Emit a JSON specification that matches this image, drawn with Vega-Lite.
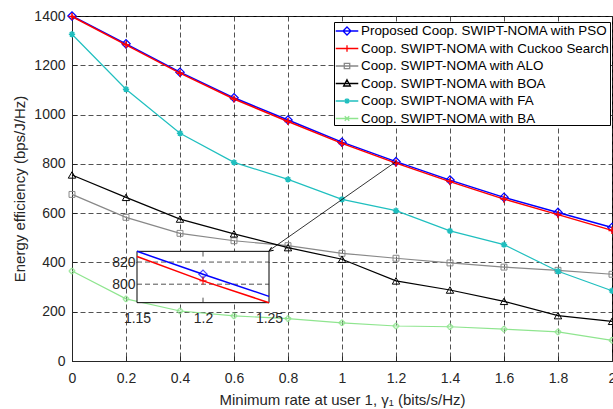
{
  "$schema": "https://vega.github.io/schema/vega-lite/v6.json",
  "width": 540,
  "height": 345,
  "autosize": {"type": "none"},
  "padding": {"left": 72, "top": 16, "right": 1, "bottom": 48},
  "background": "white",
  "config": {
    "view": {"stroke": "black", "strokeWidth": 1},
    "font": "Liberation Sans",
    "axis": {
      "labelFont": "Liberation Sans",
      "titleFont": "Liberation Sans",
      "labelFontSize": 14,
      "titleFontSize": 15,
      "labelColor": "#262626",
      "titleColor": "#262626",
      "titleFontWeight": "normal",
      "domainColor": "#262626",
      "tickColor": "#262626",
      "gridColor": "#262626",
      "gridDash": [5, 3],
      "gridWidth": 0.8,
      "gridOpacity": 1
    }
  },
  "datasets": {
    "main": [
      {"x": 0, "y": 1400, "s": "Proposed Coop. SWIPT-NOMA with PSO"},
      {"x": 0.2, "y": 1287, "s": "Proposed Coop. SWIPT-NOMA with PSO"},
      {"x": 0.4, "y": 1172, "s": "Proposed Coop. SWIPT-NOMA with PSO"},
      {"x": 0.6, "y": 1068, "s": "Proposed Coop. SWIPT-NOMA with PSO"},
      {"x": 0.8, "y": 978, "s": "Proposed Coop. SWIPT-NOMA with PSO"},
      {"x": 1.0, "y": 888, "s": "Proposed Coop. SWIPT-NOMA with PSO"},
      {"x": 1.2, "y": 809, "s": "Proposed Coop. SWIPT-NOMA with PSO"},
      {"x": 1.4, "y": 734, "s": "Proposed Coop. SWIPT-NOMA with PSO"},
      {"x": 1.6, "y": 664, "s": "Proposed Coop. SWIPT-NOMA with PSO"},
      {"x": 1.8, "y": 603, "s": "Proposed Coop. SWIPT-NOMA with PSO"},
      {"x": 2.0, "y": 542, "s": "Proposed Coop. SWIPT-NOMA with PSO"},
      {"x": 0, "y": 1398, "s": "Coop. SWIPT-NOMA with Cuckoo Search"},
      {"x": 0.2, "y": 1283, "s": "Coop. SWIPT-NOMA with Cuckoo Search"},
      {"x": 0.4, "y": 1168, "s": "Coop. SWIPT-NOMA with Cuckoo Search"},
      {"x": 0.6, "y": 1063, "s": "Coop. SWIPT-NOMA with Cuckoo Search"},
      {"x": 0.8, "y": 972, "s": "Coop. SWIPT-NOMA with Cuckoo Search"},
      {"x": 1.0, "y": 883, "s": "Coop. SWIPT-NOMA with Cuckoo Search"},
      {"x": 1.2, "y": 803, "s": "Coop. SWIPT-NOMA with Cuckoo Search"},
      {"x": 1.4, "y": 728, "s": "Coop. SWIPT-NOMA with Cuckoo Search"},
      {"x": 1.6, "y": 657, "s": "Coop. SWIPT-NOMA with Cuckoo Search"},
      {"x": 1.8, "y": 594, "s": "Coop. SWIPT-NOMA with Cuckoo Search"},
      {"x": 2.0, "y": 530, "s": "Coop. SWIPT-NOMA with Cuckoo Search"},
      {"x": 0, "y": 676, "s": "Coop. SWIPT-NOMA with ALO"},
      {"x": 0.2, "y": 583, "s": "Coop. SWIPT-NOMA with ALO"},
      {"x": 0.4, "y": 518, "s": "Coop. SWIPT-NOMA with ALO"},
      {"x": 0.6, "y": 488, "s": "Coop. SWIPT-NOMA with ALO"},
      {"x": 0.8, "y": 468, "s": "Coop. SWIPT-NOMA with ALO"},
      {"x": 1.0, "y": 437, "s": "Coop. SWIPT-NOMA with ALO"},
      {"x": 1.2, "y": 417, "s": "Coop. SWIPT-NOMA with ALO"},
      {"x": 1.4, "y": 398, "s": "Coop. SWIPT-NOMA with ALO"},
      {"x": 1.6, "y": 381, "s": "Coop. SWIPT-NOMA with ALO"},
      {"x": 1.8, "y": 368, "s": "Coop. SWIPT-NOMA with ALO"},
      {"x": 2.0, "y": 352, "s": "Coop. SWIPT-NOMA with ALO"},
      {"x": 0, "y": 755, "s": "Coop. SWIPT-NOMA with BOA"},
      {"x": 0.2, "y": 664, "s": "Coop. SWIPT-NOMA with BOA"},
      {"x": 0.4, "y": 576, "s": "Coop. SWIPT-NOMA with BOA"},
      {"x": 0.6, "y": 516, "s": "Coop. SWIPT-NOMA with BOA"},
      {"x": 0.8, "y": 460, "s": "Coop. SWIPT-NOMA with BOA"},
      {"x": 1.0, "y": 413, "s": "Coop. SWIPT-NOMA with BOA"},
      {"x": 1.2, "y": 325, "s": "Coop. SWIPT-NOMA with BOA"},
      {"x": 1.4, "y": 288, "s": "Coop. SWIPT-NOMA with BOA"},
      {"x": 1.6, "y": 242, "s": "Coop. SWIPT-NOMA with BOA"},
      {"x": 1.8, "y": 184, "s": "Coop. SWIPT-NOMA with BOA"},
      {"x": 2.0, "y": 161, "s": "Coop. SWIPT-NOMA with BOA"},
      {"x": 0, "y": 1326, "s": "Coop. SWIPT-NOMA with FA"},
      {"x": 0.2, "y": 1103, "s": "Coop. SWIPT-NOMA with FA"},
      {"x": 0.4, "y": 924, "s": "Coop. SWIPT-NOMA with FA"},
      {"x": 0.6, "y": 806, "s": "Coop. SWIPT-NOMA with FA"},
      {"x": 0.8, "y": 737, "s": "Coop. SWIPT-NOMA with FA"},
      {"x": 1.0, "y": 656, "s": "Coop. SWIPT-NOMA with FA"},
      {"x": 1.2, "y": 610, "s": "Coop. SWIPT-NOMA with FA"},
      {"x": 1.4, "y": 528, "s": "Coop. SWIPT-NOMA with FA"},
      {"x": 1.6, "y": 472, "s": "Coop. SWIPT-NOMA with FA"},
      {"x": 1.8, "y": 364, "s": "Coop. SWIPT-NOMA with FA"},
      {"x": 2.0, "y": 285, "s": "Coop. SWIPT-NOMA with FA"},
      {"x": 0, "y": 365, "s": "Coop. SWIPT-NOMA with BA"},
      {"x": 0.2, "y": 252, "s": "Coop. SWIPT-NOMA with BA"},
      {"x": 0.4, "y": 203, "s": "Coop. SWIPT-NOMA with BA"},
      {"x": 0.6, "y": 183, "s": "Coop. SWIPT-NOMA with BA"},
      {"x": 0.8, "y": 172, "s": "Coop. SWIPT-NOMA with BA"},
      {"x": 1.0, "y": 155, "s": "Coop. SWIPT-NOMA with BA"},
      {"x": 1.2, "y": 142, "s": "Coop. SWIPT-NOMA with BA"},
      {"x": 1.4, "y": 139, "s": "Coop. SWIPT-NOMA with BA"},
      {"x": 1.6, "y": 129, "s": "Coop. SWIPT-NOMA with BA"},
      {"x": 1.8, "y": 118, "s": "Coop. SWIPT-NOMA with BA"},
      {"x": 2.0, "y": 84, "s": "Coop. SWIPT-NOMA with BA"}
    ],
    "inset": [
      {"x": 1.15, "y": 829.7, "s": "PSO"},
      {"x": 1.2, "y": 809, "s": "PSO"},
      {"x": 1.25, "y": 789, "s": "PSO"},
      {"x": 1.15, "y": 825, "s": "Cuckoo"},
      {"x": 1.2, "y": 803, "s": "Cuckoo"},
      {"x": 1.25, "y": 783.3, "s": "Cuckoo"}
    ]
  },
  "layer": [
    {
      "data": {"name": "main"},
      "encoding": {
        "x": {
          "field": "x", "type": "quantitative",
          "scale": {"domain": [0, 2], "nice": false},
          "axis": {
            "title": "Minimum rate at user 1, γ₁ (bits/s/Hz)",
            "values": [0, 0.2, 0.4, 0.6, 0.8, 1, 1.2, 1.4, 1.6, 1.8, 2],
            "format": "~g",
            "grid": true,
            "tickSize": -5,
            "labelPadding": 15,
            "titlePadding": 7,
            "labelFlush": false
          }
        },
        "y": {
          "field": "y", "type": "quantitative",
          "scale": {"domain": [0, 1400], "nice": false},
          "axis": {
            "title": "Energy efficiency (bps/J/Hz)",
            "values": [0, 200, 400, 600, 800, 1000, 1200, 1400],
            "format": "d",
            "grid": true,
            "tickSize": -5,
            "labelPadding": 12,
            "titlePadding": 6,
            "labelFlush": false
          }
        }
      },
      "layer": [
        {
          "transform": [{"filter": "datum.s === 'Coop. SWIPT-NOMA with BA'"}],
          "mark": {"type": "line", "color": "#8fe58f", "strokeWidth": 1.2, "point": {"shape": "cross", "filled": false, "color": "#8fe58f", "size": 30, "strokeWidth": 1}}
        },
        {
          "transform": [{"filter": "datum.s === 'Coop. SWIPT-NOMA with ALO'"}],
          "mark": {"type": "line", "color": "#888888", "strokeWidth": 1.2, "point": {"shape": "square", "filled": false, "color": "#888888", "size": 35, "strokeWidth": 1}}
        },
        {
          "transform": [{"filter": "datum.s === 'Coop. SWIPT-NOMA with BOA'"}],
          "mark": {"type": "line", "color": "black", "strokeWidth": 1.2, "point": {"shape": "triangle-up", "filled": false, "color": "black", "size": 55, "strokeWidth": 1}}
        },
        {
          "transform": [{"filter": "datum.s === 'Coop. SWIPT-NOMA with FA'"}],
          "mark": {"type": "line", "color": "#1fbfbf", "strokeWidth": 1.2, "point": {"shape": "M0,-1V1M-1,0H1M-0.7,-0.7L0.7,0.7M-0.7,0.7L0.7,-0.7", "filled": false, "color": "#1fbfbf", "size": 40, "strokeWidth": 1.5}}
        },
        {
          "transform": [{"filter": "datum.s === 'Proposed Coop. SWIPT-NOMA with PSO'"}],
          "mark": {"type": "line", "color": "#0000ff", "strokeWidth": 1.5, "point": {"shape": "diamond", "filled": false, "color": "#0000ff", "size": 70, "strokeWidth": 1.2}}
        },
        {
          "transform": [{"filter": "datum.s === 'Coop. SWIPT-NOMA with Cuckoo Search'"}],
          "mark": {"type": "line", "color": "#ff0000", "strokeWidth": 1.5, "point": {"shape": "M0,-1V1M-1,0H1", "filled": false, "color": "#ff0000", "size": 50, "strokeWidth": 1.5}}
        },
        {
          "transform": [{"filter": "datum.s === 'Proposed Coop. SWIPT-NOMA with PSO' && datum.x === 1.2"}],
          "mark": {"type": "rule", "color": "black", "strokeWidth": 0.8},
          "encoding": {
            "x2": {"datum": 0.73},
            "y2": {"datum": 448}
          }
        },
        {
          "mark": {"type": "point", "opacity": 0},
          "encoding": {
            "color": {
              "field": "s", "type": "nominal",
              "scale": {
                "domain": ["Proposed Coop. SWIPT-NOMA with PSO", "Coop. SWIPT-NOMA with Cuckoo Search", "Coop. SWIPT-NOMA with ALO", "Coop. SWIPT-NOMA with BOA", "Coop. SWIPT-NOMA with FA", "Coop. SWIPT-NOMA with BA"],
                "range": ["#0000ff", "#ff0000", "#888888", "black", "#1fbfbf", "#8fe58f"]
              },
              "legend": {
                "title": null,
                "orient": "none",
                "legendX": 262,
                "legendY": 6,
                "fillColor": "white",
                "strokeColor": "black",
                "padding": 0,
                "rowPadding": 1.5,
                "labelFont": "Liberation Sans",
                "labelFontSize": 13.4,
                "labelColor": "black",
                "labelOffset": 5,
                "symbolOffset": 4,
                "symbolSize": 256,
                "symbolOpacity": 1,
                "symbolStrokeWidth": 1.3,
                "symbolFillColor": "transparent",
                "labelLimit": 400
              }
            },
            "shape": {
              "field": "s", "type": "nominal",
              "scale": {
                "domain": ["Proposed Coop. SWIPT-NOMA with PSO", "Coop. SWIPT-NOMA with Cuckoo Search", "Coop. SWIPT-NOMA with ALO", "Coop. SWIPT-NOMA with BOA", "Coop. SWIPT-NOMA with FA", "Coop. SWIPT-NOMA with BA"],
                "range": [
                  "M-1.41,0H1.41M0,-0.5L0.5,0L0,0.5L-0.5,0Z",
                  "M-1.41,0H1.41M0,-0.42V0.42",
                  "M-1.41,0H1.41M-0.34,-0.34H0.34V0.34H-0.34Z",
                  "M-1.41,0H1.41M0,-0.47L0.42,0.31H-0.42Z",
                  "M-1.41,0H1.41M0,-0.35V0.35M-0.25,-0.25L0.25,0.25M-0.25,0.25L0.25,-0.25",
                  "M-1.41,0H1.41M-0.28,-0.28L0.28,0.28M-0.28,0.28L0.28,-0.28"
                ]
              },
              "legend": {
                "title": null,
                "orient": "none",
                "legendX": 262,
                "legendY": 6,
                "fillColor": "white",
                "strokeColor": "black",
                "padding": 0,
                "rowPadding": 1.5,
                "labelFont": "Liberation Sans",
                "labelFontSize": 13.4,
                "labelColor": "black",
                "labelOffset": 5,
                "symbolOffset": 4,
                "symbolSize": 256,
                "symbolOpacity": 1,
                "symbolStrokeWidth": 1.3,
                "symbolFillColor": "transparent",
                "labelLimit": 400
              }
            }
          }
        }
      ]
    },
    {
      "data": {"name": "inset"},
      "encoding": {
        "x": {
          "field": "x", "type": "quantitative",
          "scale": {"domain": [1.15, 1.25], "nice": false, "range": [65, 197], "zero": false},
          "axis": {"orient": "bottom", "offset": -58, "values": [1.15, 1.2, 1.25], "format": "~g", "grid": false, "ticks": false, "domain": false, "labelPadding": 8, "title": null, "labelFlush": false, "zindex": 1}
        },
        "y": {
          "field": "y", "type": "quantitative",
          "scale": {"domain": [783, 830], "nice": false, "range": [287, 235], "zero": false},
          "axis": {"orient": "left", "offset": -65, "values": [800, 820], "grid": false, "ticks": false, "domain": false, "labelPadding": 2, "title": null, "zindex": 1}
        }
      },
      "layer": [
        {
          "mark": {"type": "rect", "fill": "white", "stroke": "black", "strokeWidth": 1},
          "encoding": {
            "x": {"aggregate": "min", "field": "x", "type": "quantitative"},
            "x2": {"aggregate": "max", "field": "x"},
            "y": {"aggregate": "min", "field": "y", "type": "quantitative"},
            "y2": {"aggregate": "max", "field": "y"}
          }
        },
        {
          "mark": {"type": "rule", "color": "#262626", "strokeDash": [5, 3], "strokeWidth": 0.8},
          "encoding": {
            "x": {"datum": 1.2, "type": "quantitative"},
            "y": {"aggregate": "min", "field": "y", "type": "quantitative"},
            "y2": {"aggregate": "max", "field": "y"}
          }
        },
        {
          "transform": [{"filter": "datum.s === 'PSO' && datum.x === 1.2"}],
          "mark": {"type": "rule", "color": "#262626", "strokeDash": [5, 3], "strokeWidth": 0.8},
          "encoding": {
            "x": {"datum": 1.15, "type": "quantitative"},
            "x2": {"datum": 1.25},
            "y": {"datum": 800, "type": "quantitative"}
          }
        },
        {
          "transform": [{"filter": "datum.s === 'PSO' && datum.x === 1.2"}],
          "mark": {"type": "rule", "color": "#262626", "strokeDash": [5, 3], "strokeWidth": 0.8},
          "encoding": {
            "x": {"datum": 1.15, "type": "quantitative"},
            "x2": {"datum": 1.25},
            "y": {"datum": 820, "type": "quantitative"}
          }
        },
        {
          "transform": [{"filter": "datum.s === 'PSO'"}],
          "mark": {"type": "line", "color": "#0000ff", "strokeWidth": 1.5}
        },
        {
          "transform": [{"filter": "datum.s === 'Cuckoo'"}],
          "mark": {"type": "line", "color": "#ff0000", "strokeWidth": 1.5}
        },
        {
          "transform": [{"filter": "datum.s === 'PSO' && datum.x === 1.2"}],
          "mark": {"type": "point", "shape": "diamond", "filled": false, "color": "#0000ff", "size": 70, "strokeWidth": 1.2}
        },
        {
          "transform": [{"filter": "datum.s === 'Cuckoo' && datum.x === 1.2"}],
          "mark": {"type": "point", "shape": "M0,-1V1M-1,0H1", "filled": false, "color": "#ff0000", "size": 50, "strokeWidth": 1.5}
        },
        {
          "mark": {"type": "point", "shape": "M0,0L-0.45,1.1M0,0L0.45,1.1", "angle": 235, "size": 64, "color": "black", "strokeWidth": 1, "filled": false, "opacity": 1},
          "encoding": {
            "x": {"aggregate": "max", "field": "x", "type": "quantitative"},
            "y": {"aggregate": "max", "field": "y", "type": "quantitative"}
          }
        }
      ]
    }
  ],
  "resolve": {"scale": {"x": "independent", "y": "independent"}}
}
